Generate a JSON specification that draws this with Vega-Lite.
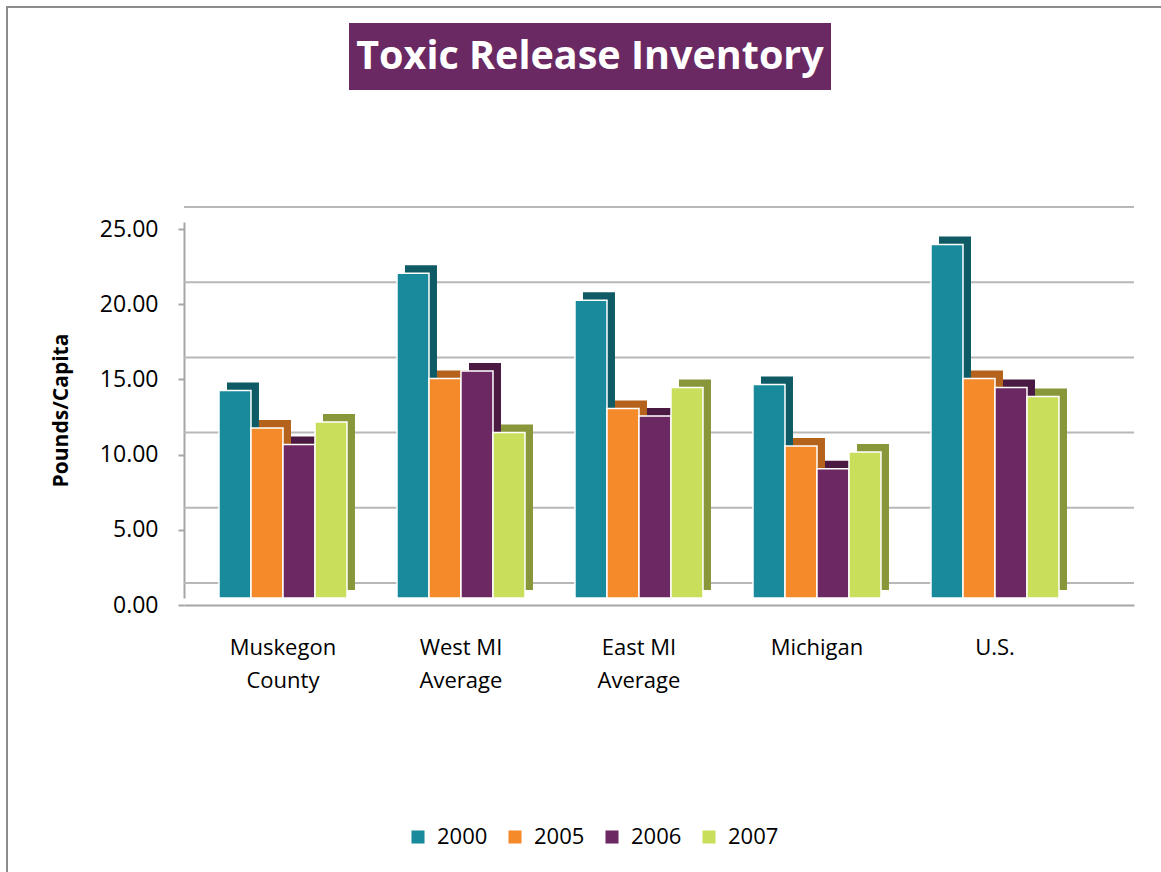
{
  "$schema": "https://vega.github.io/schema/vega-lite/v6.json",
  "background": "white",
  "padding": {"left": 6, "top": 6, "right": 0, "bottom": 0},
  "config": {
    "view": {"stroke": null},
    "font": "Open Sans",
    "concat": {"spacing": 0}
  },
  "datasets": {
    "tri": [
      {"region": "Muskegon County", "year": "2000", "value": 13.8},
      {"region": "Muskegon County", "year": "2005", "value": 11.3},
      {"region": "Muskegon County", "year": "2006", "value": 10.2},
      {"region": "Muskegon County", "year": "2007", "value": 11.7},
      {"region": "West MI Average", "year": "2000", "value": 21.6},
      {"region": "West MI Average", "year": "2005", "value": 14.6},
      {"region": "West MI Average", "year": "2006", "value": 15.1},
      {"region": "West MI Average", "year": "2007", "value": 11.0},
      {"region": "East MI Average", "year": "2000", "value": 19.8},
      {"region": "East MI Average", "year": "2005", "value": 12.6},
      {"region": "East MI Average", "year": "2006", "value": 12.1},
      {"region": "East MI Average", "year": "2007", "value": 14.0},
      {"region": "Michigan", "year": "2000", "value": 14.2},
      {"region": "Michigan", "year": "2005", "value": 10.1},
      {"region": "Michigan", "year": "2006", "value": 8.6},
      {"region": "Michigan", "year": "2007", "value": 9.7},
      {"region": "U.S.", "year": "2000", "value": 23.5},
      {"region": "U.S.", "year": "2005", "value": 14.6},
      {"region": "U.S.", "year": "2006", "value": 14.0},
      {"region": "U.S.", "year": "2007", "value": 13.4}
    ],
    "grid": [{"v": 0}, {"v": 5}, {"v": 10}, {"v": 15}, {"v": 20}, {"v": 25}],
    "blank": []
  },
  "spacing": 0,
  "hconcat": [
    {
      "width": 2,
      "height": 880,
      "view": {"fill": "#8c8c8c", "stroke": null},
      "data": {"name": "blank"},
      "mark": {"type": "point"}
    },
    {
      "spacing": 15,
      "vconcat": [
        {
          "width": 1170,
          "height": 2,
          "view": {"fill": "#8c8c8c", "stroke": null},
          "data": {"name": "blank"},
          "mark": {"type": "point"}
        },
        {
          "spacing": 0,
          "hconcat": [
            {
              "width": 42,
              "height": 2,
              "data": {"name": "blank"},
              "mark": {"type": "point"}
            },
            {
              "spacing": 116,
              "vconcat": [
                {
                  "spacing": 0,
                  "hconcat": [
                    {
                      "width": 165,
                      "height": 67,
                      "data": {"name": "blank"},
                      "mark": {"type": "point"}
                    },
                    {
                      "width": 482,
                      "height": 67,
                      "view": {"fill": "#6B2963", "stroke": null},
                      "data": {"values": [{"t": "Toxic Release Inventory"}]},
                      "mark": {"type": "text", "color": "white", "fontSize": 39.5, "fontWeight": "bold", "font": "Open Sans"},
                      "encoding": {"text": {"field": "t"}}
                    }
                  ]
                },
                {
                  "width": 950,
                  "height": 376,
                  "layer": [
                    {
                      "data": {"name": "grid"},
                      "mark": {"type": "rule", "color": "#b8b8b8", "strokeWidth": 2, "yOffset": -15},
                      "encoding": {
                        "y": {"field": "v", "type": "quantitative", "scale": {"domain": [0, 25], "nice": false}}
                      }
                    },
                    {
                      "data": {"name": "tri"},
                      "mark": {"type": "bar", "yOffset": -8, "y2Offset": -8},
                      "encoding": {
                        "x": {"field": "region", "type": "nominal", "sort": null},
                        "xOffset": {"field": "year", "type": "nominal", "scale": {"range": [8, 136]}},
                        "y": {"field": "value", "type": "quantitative"},
                        "color": {"field": "year", "type": "nominal", "scale": {"range": ["#0F5B65", "#B5621C", "#4A1A43", "#89963A"]}, "legend": null}
                      }
                    },
                    {
                      "data": {"name": "tri"},
                      "mark": {"type": "bar", "stroke": "white", "strokeWidth": 1.5},
                      "encoding": {
                        "x": {
                          "field": "region", "type": "nominal", "sort": null,
                          "scale": {"paddingInner": 0.281, "paddingOuter": 0.309, "align": 0.318},
                          "axis": {
                            "orient": "bottom", "offset": 7, "title": null, "ticks": false,
                            "domainColor": "#a6a6a6", "domainWidth": 2,
                            "labelAngle": 0, "labelAlign": "center", "labelFontSize": 22, "labelColor": "black",
                            "labelPadding": 32, "labelLineHeight": 33, "labelBaseline": "top",
                            "labelExpr": "indexof(datum.label, ' ') < 0 ? datum.label : [substring(datum.label, 0, lastindexof(datum.label, ' ')), substring(datum.label, lastindexof(datum.label, ' ') + 1)]"
                          }
                        },
                        "xOffset": {"field": "year", "type": "nominal", "scale": {"range": [0, 128]}},
                        "y": {
                          "field": "value", "type": "quantitative",
                          "axis": {
                            "title": "Pounds/Capita", "titleFontSize": 21, "titleFontWeight": "bold", "titleColor": "black", "titlePadding": 28,
                            "values": [0, 5, 10, 15, 20, 25], "format": ".2f", "grid": false,
                            "tickOffset": 7, "tickSize": 6, "tickColor": "#a6a6a6", "tickWidth": 2,
                            "domainColor": "#a6a6a6", "domainWidth": 2,
                            "labelFontSize": 23, "labelColor": "black", "labelPadding": 20
                          }
                        },
                        "color": {
                          "field": "year", "type": "nominal",
                          "scale": {"range": ["#188A9B", "#F58A2B", "#6C2862", "#C9DF5C"]},
                          "legend": {
                            "orient": "none", "legendX": 223, "legendY": 604, "direction": "horizontal", "title": null,
                            "symbolType": "square", "symbolSize": 170, "symbolStrokeWidth": 0,
                            "labelFontSize": 22, "labelColor": "black", "labelOffset": 8,
                            "columnPadding": 16
                          }
                        }
                      }
                    }
                  ],
                  "resolve": {"scale": {"xOffset": "independent", "color": "independent"}}
                }
              ]
            }
          ]
        }
      ]
    }
  ]
}
